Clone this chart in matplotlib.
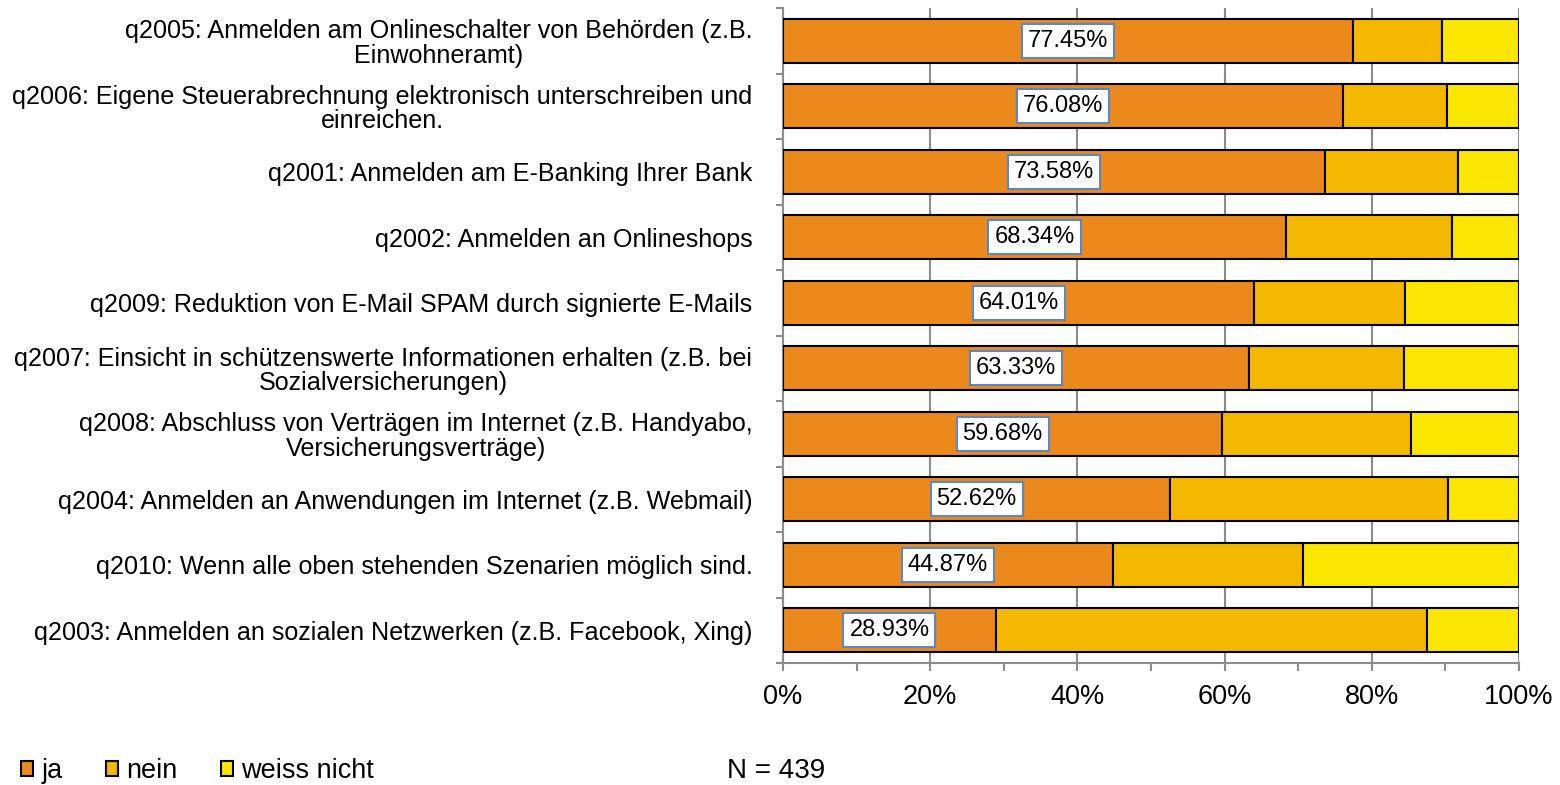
import matplotlib
matplotlib.use("Agg")
import matplotlib.pyplot as plt
from matplotlib.ticker import MultipleLocator, FixedLocator, NullFormatter, PercentFormatter
import numpy as np

plt.rcParams['font.family'] = ['Liberation Sans', 'DejaVu Sans']

categories = [
    "q2005: Anmelden am Onlineschalter von Behörden (z.B.\nEinwohneramt)",
    "q2006: Eigene Steuerabrechnung elektronisch unterschreiben und\neinreichen.",
    "q2001: Anmelden am E-Banking Ihrer Bank",
    "q2002: Anmelden an Onlineshops",
    "q2009: Reduktion von E-Mail SPAM durch signierte E-Mails",
    "q2007: Einsicht in schützenswerte Informationen erhalten (z.B. bei\nSozialversicherungen)",
    "q2008: Abschluss von Verträgen im Internet (z.B. Handyabo,\nVersicherungsverträge)",
    "q2004: Anmelden an Anwendungen im Internet (z.B. Webmail)",
    "q2010: Wenn alle oben stehenden Szenarien möglich sind.",
    "q2003: Anmelden an sozialen Netzwerken (z.B. Facebook, Xing)",
]
ja = [77.45, 76.08, 73.58, 68.34, 64.01, 63.33, 59.68, 52.62, 44.87, 28.93]
nein = [12.05, 14.1, 18.1, 22.6, 20.5, 21.1, 25.6, 37.7, 25.8, 58.6]
weiss_nicht = [round(100 - a - b, 2) for a, b in zip(ja, nein)]
series_names = ["ja", "nein", "weiss nicht"]
colors = ["#EC891D", "#F5B800", "#FAE600"]
n_text = "N = 439"

W, H = 1560, 785
fig = plt.figure(figsize=(W / 100, H / 100), dpi=100)
ax = fig.add_axes([783 / W, 1 - 663 / H, (1519 - 783) / W, (663 - 8) / H])

y = np.arange(len(categories))
ja_a = np.array(ja)
nein_a = np.array(nein)
wn_a = np.array(weiss_nicht)
bh = 0.67
b1 = ax.barh(y, ja_a, height=bh, color=colors[0], edgecolor='black', linewidth=1.5, label=series_names[0], zorder=3)
b2 = ax.barh(y, nein_a, left=ja_a, height=bh, color=colors[1], edgecolor='black', linewidth=1.5, label=series_names[1], zorder=3)
b3 = ax.barh(y, wn_a, left=ja_a + nein_a, height=bh, color=colors[2], edgecolor='black', linewidth=1.5, label=series_names[2], zorder=3)

for yi, v in zip(y, ja):
    ax.text(v / 2, yi, f"{v:.2f}%", ha='center', va='center', fontsize=17, zorder=5,
            bbox=dict(boxstyle='square,pad=0.25', fc='white', ec='#5B87C5', lw=1.5))

ax.set_xlim(0, 100)
ax.set_ylim(len(categories) - 0.5, -0.5)

ax.xaxis.set_major_locator(MultipleLocator(20))
ax.xaxis.set_minor_locator(MultipleLocator(10))
ax.xaxis.set_major_formatter(PercentFormatter(decimals=0))
ax.grid(axis='x', which='major', color='#8C8C8C', linewidth=1.5, zorder=0)

ax.yaxis.set_major_locator(FixedLocator(np.arange(-0.5, len(categories), 1.0)))
ax.yaxis.set_major_formatter(NullFormatter())
ax.yaxis.set_minor_locator(FixedLocator(y))
ax.set_yticks(y, labels=categories, minor=True)
ax.tick_params(axis='y', which='minor', length=0, pad=22, labelsize=18.1)
for lab in ax.get_yticklabels(minor=True):
    lab.set_multialignment('center')
    lab.set_linespacing(1.02)
ax.tick_params(axis='y', which='major', length=5, width=1.5, color='#8C8C8C', direction='out')
ax.tick_params(axis='x', which='major', length=6, width=1.5, color='#8C8C8C', labelsize=19.5, pad=9)
ax.tick_params(axis='x', which='minor', length=6, width=1.5, color='#8C8C8C')

for s in ['top', 'right']:
    ax.spines[s].set_visible(False)
for s in ['left', 'bottom']:
    ax.spines[s].set_color('#8C8C8C')
    ax.spines[s].set_linewidth(1.5)
ax.set_axisbelow(True)

fs = 19.5
leg = fig.legend(handles=[b1, b2, b3], labels=series_names, loc='center left',
                 bbox_to_anchor=(21 / W, 1 - 771 / H), ncol=3, frameon=False, fontsize=fs,
                 handlelength=0.45, handleheight=0.45, handletextpad=0.3, columnspacing=1.6,
                 borderpad=0, borderaxespad=0)
for p in leg.get_patches():
    p.set_linewidth(1.5)

fig.text(727 / W, 1 - 771 / H, n_text, fontsize=20, ha='left', va='center')

fig.savefig("out.png", dpi=100)
